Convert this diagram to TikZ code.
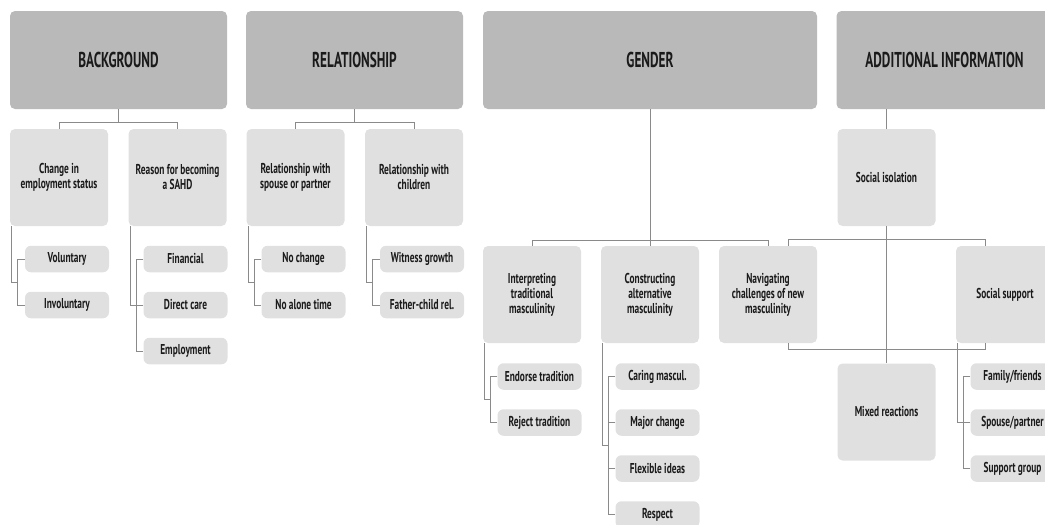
\documentclass[tikz,border=0pt]{standalone}
\usepackage{fontspec}
\setmainfont{PT Sans}
\newfontfamily\headfont{PT Sans}[FakeStretch=0.615]
\newfontfamily\bodyfont{PT Sans}[FakeStretch=0.655]
\usepackage{xcolor}
\usepackage{tikz}
\usetikzlibrary{positioning, calc}

\definecolor{headgray}{HTML}{B9B9B9}
\definecolor{subgray}{HTML}{E0E0E0}
\definecolor{linegray}{HTML}{8A8A8A}
\definecolor{inkgray}{HTML}{1A1A1A}

\begin{document}
\begin{tikzpicture}[x=1pt, y=-1pt, node distance=46pt,
    head/.style={rectangle, fill=headgray, rounded corners=5pt, minimum width=217pt, minimum height=98pt, inner sep=0pt, text=inkgray, font=\headfont\bfseries\fontsize{21.5}{24}\selectfont},
    sub/.style={rectangle, fill=subgray, rounded corners=5pt, minimum width=98pt, minimum height=97pt, inner sep=0pt, align=center, text=inkgray, font=\bodyfont\bfseries\fontsize{14.3}{15}\selectfont},
    leaf/.style={rectangle, fill=subgray, rounded corners=6pt, minimum width=84pt, minimum height=26.5pt, inner sep=0pt, text=inkgray, font=\bodyfont\bfseries\fontsize{14.3}{15}\selectfont},
    conn/.style={draw=linegray, line width=0.9pt}]

    \useasboundingbox (0,0) rectangle (1045,525);

    % top row
    \node [head] (bg) at (118.5,60) {BACKGROUND};
    \node [head] (rel) at (354.5,60) {RELATIONSHIP};
    \node [head, minimum width=334pt] (gen) at (650,60) {GENDER};
    \node [head, minimum width=216pt] (add) at (944.5,60) {ADDITIONAL INFORMATION};

    % second row
    \node [sub, below of=bg, yshift=-71.5pt, xshift=-59.5pt] (chg) {Change in\\employment status};
    \node [sub, below of=bg, yshift=-71.5pt, xshift=59pt] (rsn) {Reason for becoming\\a SAHD};
    \node [sub, below of=rel, yshift=-71.5pt, xshift=-59pt] (spo) {Relationship with\\spouse or partner};
    \node [sub, below of=rel, yshift=-71.5pt, xshift=59.5pt] (chi) {Relationship with\\children};
    \node [sub, below of=add, yshift=-71.5pt, xshift=-58pt] (iso) {Social isolation};

    % gender row
    \node [sub, below of=gen, yshift=-188.5pt, xshift=-118pt] (itr) {Interpreting\\traditional\\masculinity};
    \node [sub, below of=gen, yshift=-188.5pt] (con) {Constructing\\alternative\\masculinity};
    \node [sub, below of=gen, yshift=-188.5pt, xshift=118pt] (nav) {Navigating\\challenges of new\\masculinity};
    \node [sub, below of=add, yshift=-188.5pt, xshift=60.5pt] (sup) {Social support};
    \node [sub, below of=iso, yshift=-188.5pt] (mix) {Mixed reactions};

    % leaves
    \node [leaf, below of=chg, yshift=-35.5pt, xshift=8pt] (vol) {Voluntary};
    \node [leaf, below of=vol] (inv) {Involuntary};
    \node [leaf, below of=rsn, yshift=-35.5pt, xshift=8pt] (fin) {Financial};
    \node [leaf, below of=fin] (dir) {Direct care};
    \node [leaf, below of=dir] (emp) {Employment};
    \node [leaf, below of=spo, yshift=-35.5pt, xshift=8pt] (noc) {No change};
    \node [leaf, below of=noc] (nal) {No alone time};
    \node [leaf, below of=chi, yshift=-35.5pt, xshift=8pt] (wit) {Witness growth};
    \node [leaf, below of=wit] (fat) {Father-child rel.};

    \node [leaf, below of=itr, yshift=-36pt, xshift=7.5pt] (end) {Endorse tradition};
    \node [leaf, below of=end] (rej) {Reject tradition};
    \node [leaf, below of=con, yshift=-36pt, xshift=7.5pt] (car) {Caring mascul.};
    \node [leaf, below of=car] (maj) {Major change};
    \node [leaf, below of=maj] (flx) {Flexible ideas};
    \node [leaf, below of=flx] (res) {Respect};
    \node [leaf, below of=sup, yshift=-36pt, xshift=7.5pt] (fam) {Family/friends};
    \node [leaf, below of=fam] (spp) {Spouse/partner};
    \node [leaf, below of=spp] (grp) {Support group};

    % head to second row
    \draw [conn] (bg.south) -- ++(0,13.5) -| (chg.north);
    \draw [conn] (bg.south) -- ++(0,13.5) -| (rsn.north);
    \draw [conn] (rel.south) -- ++(0,13.5) -| (spo.north);
    \draw [conn] (rel.south) -- ++(0,13.5) -| (chi.north);
    \draw [conn] (gen.south) -- ++(0,131) -| (itr.north);
    \draw [conn] (gen.south) -- (con.north);
    \draw [conn] (gen.south) -- ++(0,131) -| (nav.north);
    \draw [conn] (add.south -| iso.north) -- (iso.north);
    \draw [conn] (iso) -- (mix);
    \draw [conn] ([xshift=20pt]nav.north) -- ++(0,-6) -| ([xshift=-20pt]sup.north);
    \draw [conn] ([xshift=20pt]nav.south) -- ++(0,6) -| ([xshift=-20pt]sup.south);

    % brackets to leaves
    \draw [conn] ([xshift=2pt]chg.south west) |- ([xshift=-7pt]$(vol.west)!0.5!(inv.west)$);
    \draw [conn] (vol.west) -- ++(-7,0) |- (inv.west);
    \draw [conn] ([xshift=2pt]rsn.south west) |- ([xshift=-7pt]dir.west);
    \draw [conn] (fin.west) -- ++(-7,0) |- (emp.west);
    \draw [conn] (dir.west) -- ++(-7,0);
    \draw [conn] ([xshift=2pt]spo.south west) |- ([xshift=-7pt]$(noc.west)!0.5!(nal.west)$);
    \draw [conn] (noc.west) -- ++(-7,0) |- (nal.west);
    \draw [conn] ([xshift=2pt]chi.south west) |- ([xshift=-7pt]$(wit.west)!0.5!(fat.west)$);
    \draw [conn] (wit.west) -- ++(-7,0) |- (fat.west);

    \draw [conn] ([xshift=2pt]itr.south west) |- ([xshift=-7pt]$(end.west)!0.5!(rej.west)$);
    \draw [conn] (end.west) -- ++(-7,0) |- (rej.west);
    \draw [conn] ([xshift=2pt]con.south west) |- ([xshift=-7pt]$(car.west)!0.5!(res.west)$);
    \draw [conn] (car.west) -- ++(-7,0) |- (res.west);
    \draw [conn] (maj.west) -- ++(-7,0);
    \draw [conn] (flx.west) -- ++(-7,0);
    \draw [conn] ([xshift=2pt]sup.south west) |- ([xshift=-7pt]spp.west);
    \draw [conn] (fam.west) -- ++(-7,0) |- (grp.west);
    \draw [conn] (spp.west) -- ++(-7,0);
\end{tikzpicture}
\end{document}
